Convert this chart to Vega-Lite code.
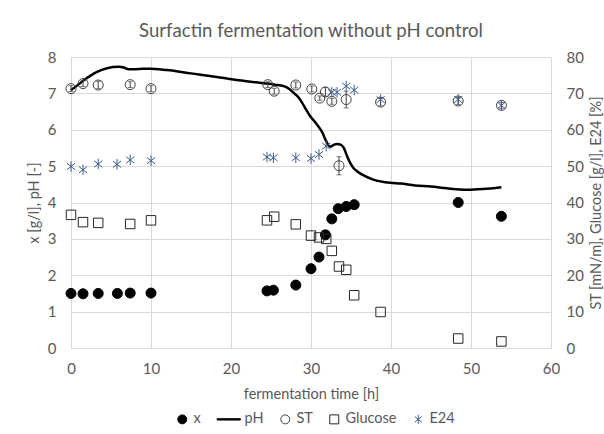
{
  "$schema": "https://vega.github.io/schema/vega-lite/v6.json",
  "width": 480,
  "height": 291,
  "autosize": {"type": "none"},
  "padding": {"left": 71, "top": 57, "right": 53, "bottom": 86},
  "background": "white",
  "title": {
    "text": "Surfactin fermentation without pH control",
    "font": "Lato",
    "fontSize": 18.6,
    "fontWeight": "normal",
    "color": "#595959",
    "anchor": "middle",
    "offset": 9
  },
  "datasets": {
    "biomass": [
      {"t": 0, "v": 1.5, "series": "x"}, {"t": 1.5, "v": 1.49, "series": "x"}, {"t": 3.4, "v": 1.5, "series": "x"},
      {"t": 5.8, "v": 1.5, "series": "x"}, {"t": 7.4, "v": 1.51, "series": "x"}, {"t": 10, "v": 1.51, "series": "x"},
      {"t": 24.5, "v": 1.57, "series": "x"}, {"t": 25.3, "v": 1.59, "series": "x"}, {"t": 28.1, "v": 1.73, "series": "x"},
      {"t": 30.0, "v": 2.18, "series": "x"}, {"t": 31.0, "v": 2.5, "series": "x"}, {"t": 31.8, "v": 3.11, "series": "x"},
      {"t": 32.6, "v": 3.55, "series": "x"}, {"t": 33.4, "v": 3.83, "series": "x"}, {"t": 34.4, "v": 3.89, "series": "x"},
      {"t": 35.4, "v": 3.94, "series": "x"}, {"t": 48.4, "v": 4.0, "series": "x"}, {"t": 53.8, "v": 3.62, "series": "x"}
    ],
    "ph": [
      {"t": 0, "v": 7.09, "series": "pH"}, {"t": 0.8, "v": 7.22, "series": "pH"}, {"t": 1.6, "v": 7.36, "series": "pH"},
      {"t": 2.4, "v": 7.48, "series": "pH"}, {"t": 3.25, "v": 7.59, "series": "pH"}, {"t": 4.5, "v": 7.69, "series": "pH"},
      {"t": 5.95, "v": 7.73, "series": "pH"}, {"t": 6.6, "v": 7.71, "series": "pH"}, {"t": 7.2, "v": 7.66, "series": "pH"},
      {"t": 8.5, "v": 7.67, "series": "pH"}, {"t": 9.9, "v": 7.68, "series": "pH"}, {"t": 12, "v": 7.64, "series": "pH"},
      {"t": 15, "v": 7.55, "series": "pH"}, {"t": 18, "v": 7.46, "series": "pH"}, {"t": 21, "v": 7.36, "series": "pH"},
      {"t": 24.1, "v": 7.28, "series": "pH"}, {"t": 25.5, "v": 7.24, "series": "pH"}, {"t": 26.6, "v": 7.2, "series": "pH"},
      {"t": 27.3, "v": 7.12, "series": "pH"}, {"t": 27.8, "v": 7.02, "series": "pH"}, {"t": 28.4, "v": 6.9, "series": "pH"},
      {"t": 28.9, "v": 6.74, "series": "pH"}, {"t": 29.4, "v": 6.55, "series": "pH"}, {"t": 29.9, "v": 6.37, "series": "pH"},
      {"t": 30.4, "v": 6.24, "series": "pH"}, {"t": 30.95, "v": 6.08, "series": "pH"}, {"t": 31.4, "v": 5.93, "series": "pH"},
      {"t": 31.8, "v": 5.73, "series": "pH"}, {"t": 32.1, "v": 5.6, "series": "pH"}, {"t": 32.4, "v": 5.53, "series": "pH"},
      {"t": 32.8, "v": 5.58, "series": "pH"}, {"t": 33.25, "v": 5.61, "series": "pH"}, {"t": 33.7, "v": 5.59, "series": "pH"},
      {"t": 34.1, "v": 5.5, "series": "pH"}, {"t": 34.5, "v": 5.28, "series": "pH"}, {"t": 34.9, "v": 5.09, "series": "pH"},
      {"t": 35.3, "v": 4.95, "series": "pH"}, {"t": 35.75, "v": 4.86, "series": "pH"}, {"t": 36.7, "v": 4.73, "series": "pH"},
      {"t": 37.8, "v": 4.63, "series": "pH"}, {"t": 39.9, "v": 4.54, "series": "pH"}, {"t": 41.2, "v": 4.52, "series": "pH"},
      {"t": 43, "v": 4.47, "series": "pH"}, {"t": 45, "v": 4.44, "series": "pH"}, {"t": 47, "v": 4.39, "series": "pH"},
      {"t": 49.5, "v": 4.35, "series": "pH"}, {"t": 51.5, "v": 4.37, "series": "pH"}, {"t": 53.8, "v": 4.42, "series": "pH"}
    ],
    "st": [
      {"t": 0, "v": 71.3, "lo": 70.5, "hi": 72.1, "series": "ST"}, {"t": 1.5, "v": 72.7, "lo": 71.9, "hi": 73.5, "series": "ST"},
      {"t": 3.4, "v": 72.3, "lo": 71.3, "hi": 73.3, "series": "ST"}, {"t": 7.4, "v": 72.4, "lo": 71.6, "hi": 73.2, "series": "ST"},
      {"t": 10, "v": 71.3, "lo": 70.5, "hi": 72.1, "series": "ST"}, {"t": 24.6, "v": 72.4, "lo": 71.6, "hi": 73.2, "series": "ST"},
      {"t": 25.4, "v": 70.6, "lo": 69.8, "hi": 71.4, "series": "ST"}, {"t": 28.1, "v": 72.3, "lo": 71.5, "hi": 73.1, "series": "ST"},
      {"t": 30.1, "v": 71.2, "lo": 70.4, "hi": 72.0, "series": "ST"}, {"t": 31.1, "v": 68.7, "lo": 68.1, "hi": 69.3, "series": "ST"},
      {"t": 31.8, "v": 70.4, "lo": 69.2, "hi": 71.6, "series": "ST"}, {"t": 32.6, "v": 67.8, "lo": 67.0, "hi": 68.6, "series": "ST"},
      {"t": 33.5, "v": 50.1, "lo": 47.6, "hi": 52.6, "series": "ST"}, {"t": 34.4, "v": 68.3, "lo": 66.0, "hi": 70.6, "series": "ST"},
      {"t": 38.7, "v": 67.6, "lo": 66.6, "hi": 68.6, "series": "ST"}, {"t": 48.4, "v": 67.9, "lo": 66.9, "hi": 68.9, "series": "ST"},
      {"t": 53.8, "v": 66.7, "lo": 65.9, "hi": 67.5, "series": "ST"}
    ],
    "glucose": [
      {"t": 0, "v": 36.6, "series": "Glucose"}, {"t": 1.5, "v": 34.6, "series": "Glucose"}, {"t": 3.4, "v": 34.4, "series": "Glucose"},
      {"t": 7.4, "v": 34.1, "series": "Glucose"}, {"t": 10, "v": 35.1, "series": "Glucose"}, {"t": 24.5, "v": 35.1, "series": "Glucose"},
      {"t": 25.4, "v": 36.1, "series": "Glucose"}, {"t": 28.1, "v": 34.0, "series": "Glucose"}, {"t": 30.0, "v": 30.9, "series": "Glucose"},
      {"t": 31.0, "v": 30.4, "series": "Glucose"}, {"t": 31.9, "v": 30.0, "series": "Glucose"}, {"t": 32.6, "v": 26.7, "series": "Glucose"},
      {"t": 33.5, "v": 22.4, "series": "Glucose"}, {"t": 34.4, "v": 21.5, "series": "Glucose"}, {"t": 35.4, "v": 14.5, "series": "Glucose"},
      {"t": 38.7, "v": 9.9, "series": "Glucose"}, {"t": 48.4, "v": 2.6, "series": "Glucose"}, {"t": 53.8, "v": 1.8, "series": "Glucose"}
    ],
    "e24": [
      {"t": 0, "v": 49.9, "series": "E24"}, {"t": 1.5, "v": 49.0, "series": "E24"}, {"t": 3.4, "v": 50.6, "series": "E24"},
      {"t": 5.75, "v": 50.5, "series": "E24"}, {"t": 7.4, "v": 51.7, "series": "E24"}, {"t": 10, "v": 51.5, "series": "E24"},
      {"t": 24.5, "v": 52.5, "series": "E24"}, {"t": 25.3, "v": 52.3, "series": "E24"}, {"t": 28.1, "v": 52.3, "series": "E24"},
      {"t": 30.0, "v": 52.1, "series": "E24"}, {"t": 31.0, "v": 53.2, "series": "E24"}, {"t": 31.9, "v": 55.5, "series": "E24"},
      {"t": 32.6, "v": 70.3, "series": "E24"}, {"t": 33.25, "v": 70.3, "series": "E24"}, {"t": 34.4, "v": 72.0, "series": "E24"},
      {"t": 35.4, "v": 70.9, "series": "E24"}, {"t": 38.7, "v": 68.3, "series": "E24"}, {"t": 48.4, "v": 68.3, "series": "E24"},
      {"t": 53.8, "v": 66.7, "series": "E24"}
    ]
  },
  "layer": [
    {
      "layer": [
        {
          "data": {"name": "ph"},
          "mark": {"type": "line", "strokeWidth": 2.5, "interpolate": "monotone"},
          "encoding": {
            "x": {"field": "t", "type": "quantitative"},
            "y": {"field": "v", "type": "quantitative"},
            "stroke": {
              "field": "series", "type": "nominal", "legend": {"title": null},
              "scale": {"domain": ["x", "pH", "ST", "Glucose", "E24"], "range": ["black", "black", "#404040", "#262626", "#3E5C92"]}
            }
          }
        },
        {
          "data": {"name": "biomass"},
          "mark": {"type": "point", "size": 100, "opacity": 1, "strokeWidth": 1},
          "encoding": {
            "x": {"field": "t", "type": "quantitative"},
            "y": {"field": "v", "type": "quantitative"},
            "shape": {
              "field": "series", "type": "nominal", "legend": {"title": null},
              "scale": {"domain": ["x", "pH", "ST", "Glucose", "E24"], "range": ["circle", "M-3.6,-0.15L1.6,-0.15L1.6,0.15L-3.6,0.15Z", "circle", "square", "M0,-1L0,1M-0.78,-0.62L0.78,0.62M-0.78,0.62L0.78,-0.62"]}
            },
            "fill": {
              "field": "series", "type": "nominal", "legend": {"title": null},
              "scale": {"domain": ["x", "pH", "ST", "Glucose", "E24"], "range": ["black", "black", "transparent", "transparent", "transparent"]}
            },
            "stroke": {"field": "series", "type": "nominal", "legend": {"title": null}}
          }
        }
      ],
      "encoding": {
        "x": {
          "field": "t", "type": "quantitative",
          "scale": {"domain": [0, 60], "nice": false},
          "axis": {"values": [0, 10, 20, 30, 40, 50, 60], "title": "fermentation time [h]", "labelPadding": 13, "titlePadding": 11, "labelFlush": false}
        },
        "y": {
          "field": "v", "type": "quantitative",
          "scale": {"domain": [0, 8], "nice": false},
          "axis": {"values": [0, 1, 2, 3, 4, 5, 6, 7, 8], "title": "x [g/l], pH [-]", "orient": "left", "labelPadding": 15, "titlePadding": 6, "labelFlush": false}
        }
      }
    },
    {
      "layer": [
        {
          "data": {"name": "st"},
          "mark": {"type": "errorbar", "ticks": {"size": 5, "color": "#404040"}, "rule": {"color": "#404040", "strokeWidth": 1}},
          "encoding": {
            "x": {"field": "t", "type": "quantitative"},
            "y": {"field": "lo", "type": "quantitative"},
            "y2": {"field": "hi"}
          }
        },
        {
          "data": {"name": "st"},
          "mark": {"type": "point", "size": 100, "opacity": 1, "strokeWidth": 1},
          "encoding": {
            "x": {"field": "t", "type": "quantitative"},
            "y": {"field": "v", "type": "quantitative"},
            "shape": {"field": "series", "type": "nominal", "legend": {"title": null}},
            "fill": {"field": "series", "type": "nominal", "legend": {"title": null}},
            "stroke": {"field": "series", "type": "nominal", "legend": {"title": null}}
          }
        },
        {
          "data": {"name": "glucose"},
          "mark": {"type": "point", "size": 90, "opacity": 1, "strokeWidth": 1},
          "encoding": {
            "x": {"field": "t", "type": "quantitative"},
            "y": {"field": "v", "type": "quantitative"},
            "shape": {"field": "series", "type": "nominal", "legend": {"title": null}},
            "fill": {"field": "series", "type": "nominal", "legend": {"title": null}},
            "stroke": {"field": "series", "type": "nominal", "legend": {"title": null}}
          }
        },
        {
          "data": {"name": "e24"},
          "mark": {"type": "point", "size": 110, "opacity": 1, "strokeWidth": 1},
          "encoding": {
            "x": {"field": "t", "type": "quantitative"},
            "y": {"field": "v", "type": "quantitative"},
            "shape": {"field": "series", "type": "nominal", "legend": {"title": null}},
            "fill": {"field": "series", "type": "nominal", "legend": {"title": null}},
            "stroke": {"field": "series", "type": "nominal", "legend": {"title": null}}
          }
        }
      ],
      "encoding": {
        "x": {"field": "t", "type": "quantitative", "scale": {"domain": [0, 60], "nice": false}},
        "y": {
          "field": "v", "type": "quantitative",
          "scale": {"domain": [0, 80], "nice": false},
          "axis": {"values": [0, 10, 20, 30, 40, 50, 60, 70, 80], "title": "ST [mN/m], Glucose [g/l], E24 [%]", "orient": "right", "grid": false, "labelPadding": 15, "titlePadding": 20, "titleAngle": 270, "labelFlush": false}
        }
      }
    }
  ],
  "resolve": {"scale": {"y": "independent"}},
  "config": {
    "view": {"stroke": "#D9D9D9"},
    "font": "Lato",
    "axis": {
      "labelFont": "Lato", "labelFontSize": 15, "labelColor": "#595959",
      "titleFont": "Lato", "titleFontSize": 14.5, "titleColor": "#595959", "titleFontWeight": "normal",
      "gridColor": "#D9D9D9", "domain": false, "ticks": false, "grid": true
    },
    "legend": {
      "orient": "none", "legendX": 104, "legendY": 355, "direction": "horizontal",
      "labelFont": "Lato", "labelFontSize": 14.5, "labelColor": "#595959",
      "symbolSize": 80, "symbolStrokeWidth": 1, "columnPadding": 14, "labelOffset": 4
    }
  }
}
